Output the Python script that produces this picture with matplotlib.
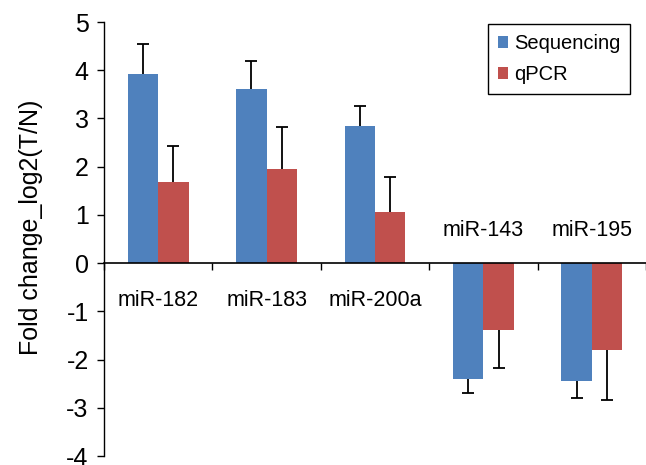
import numpy as np
import matplotlib
matplotlib.use("Agg")
import matplotlib.pyplot as plt

plt.rcParams['font.family'] = ['Liberation Sans', 'DejaVu Sans']
plt.rcParams['axes.unicode_minus'] = False

mirnas = ["miR-182", "miR-183", "miR-200a", "miR-143", "miR-195"]
seq = [3.93, 3.61, 2.84, -2.40, -2.45]
seq_err = [0.62, 0.58, 0.41, 0.29, 0.35]
qpcr = [1.69, 1.96, 1.06, -1.38, -1.80]
qpcr_err = [0.73, 0.87, 0.72, 0.79, 1.03]

blue = '#4F81BD'
red = '#C0504D'

fig = plt.figure(figsize=(6.46, 4.65), dpi=100)
ax = fig.add_axes([104 / 646, 9 / 465, 542 / 646, 434 / 465])

x = np.arange(len(mirnas))
w = 0.28

ax.bar(x - w / 2, seq, w, color=blue, label='Sequencing', zorder=2)
ax.bar(x + w / 2, qpcr, w, color=red, label='qPCR', zorder=2)

# one-sided error bars (away from zero), cap only at the tip
for xs, vals, errs in [(x - w / 2, seq, seq_err), (x + w / 2, qpcr, qpcr_err)]:
    vals = np.array(vals)
    errs = np.array(errs)
    tips = vals + np.sign(vals) * errs
    ax.vlines(xs, vals, tips, color='black', lw=1.3, zorder=3)
    ax.plot(xs, tips, ls='none', marker='_', markersize=9, mew=1.3,
            color='black', zorder=3)

ax.set_xlim(-0.5, len(mirnas) - 0.5)
ax.set_ylim(-4, 5)
ax.set_yticks(range(-4, 6))
ax.tick_params(axis='y', labelsize=18, length=5, width=1, direction='out', pad=6)

ax.spines['top'].set_visible(False)
ax.spines['right'].set_visible(False)
ax.spines['bottom'].set_position(('data', 0))
ax.spines['left'].set_linewidth(1)
ax.spines['bottom'].set_linewidth(1.2)

ax.set_xticks(np.arange(len(mirnas) + 1) - 0.5)
ax.set_xticklabels([])
ax.tick_params(axis='x', length=5, width=1, direction='out')

for i, (name, v) in enumerate(zip(mirnas, seq)):
    if v >= 0:
        ax.text(i, -0.78, name, ha='center', va='center', fontsize=15.5)
    else:
        ax.text(i, 0.68, name, ha='center', va='center', fontsize=15.5)

ax.set_ylabel('Fold change_log2(T/N)', fontsize=18)
ax.yaxis.set_label_coords(-0.113, 0.527)

leg = ax.legend(loc='upper right', bbox_to_anchor=(0.975, 1.0), fontsize=14.5,
                handlelength=0.5, handleheight=0.5, handletextpad=0.3,
                labelspacing=0.6, fancybox=False, framealpha=1,
                borderpad=0.5, borderaxespad=0.1)
leg.get_frame().set_edgecolor('black')
leg.get_frame().set_linewidth(1)

fig.savefig('out.png', dpi=100)
